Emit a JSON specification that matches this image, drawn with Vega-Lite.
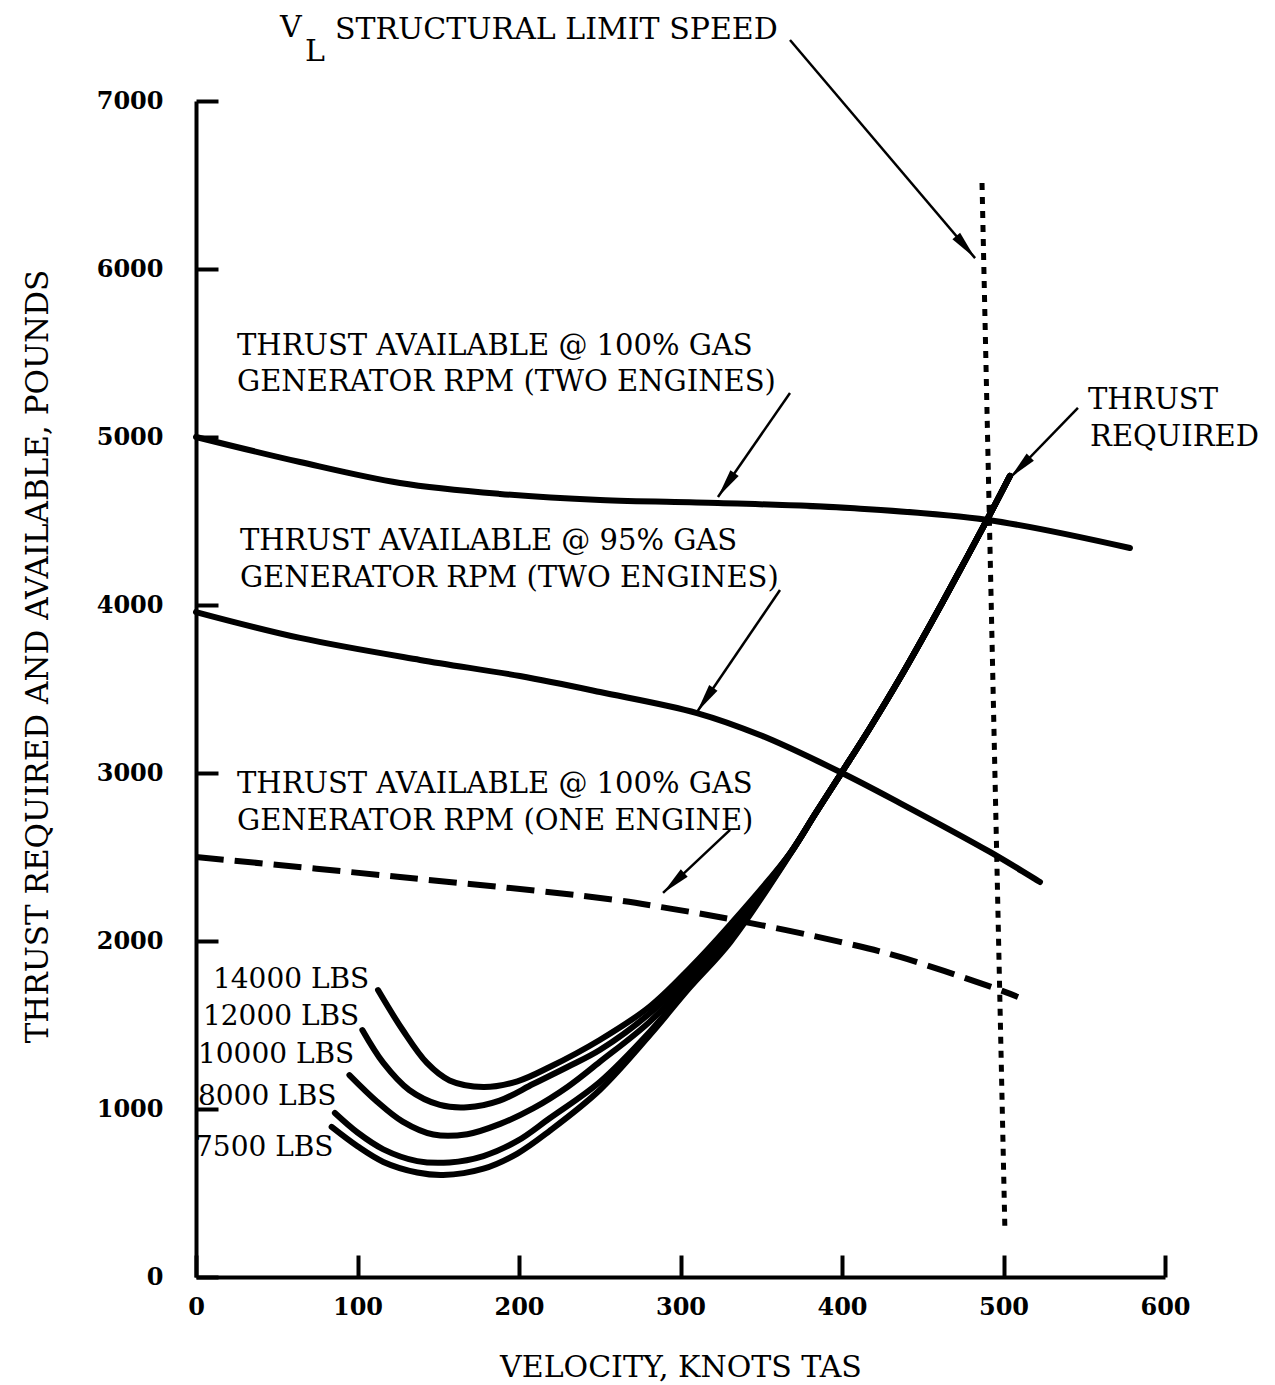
{
  "$schema": "https://vega.github.io/schema/vega-lite/v6.json",
  "width": 969,
  "height": 1176,
  "autosize": {"type": "none"},
  "padding": {"left": 196, "top": 101, "right": 110, "bottom": 108},
  "background": "white",
  "config": {
    "view": {"stroke": null},
    "font": "DejaVu Serif",
    "axis": {
      "domainColor": "black", "domainWidth": 4, "tickColor": "black", "tickWidth": 4,
      "tickSize": -22, "grid": false, "labelFont": "DejaVu Serif", "labelFontWeight": "bold",
      "labelFontSize": 24, "labelColor": "black", "titleFont": "DejaVu Serif",
      "titleFontWeight": "normal", "titleFontSize": 30, "titleColor": "black"
    }
  },
  "datasets": {
    "curves": [
      {"series": "100% two", "v": 0, "t": 5000}, {"series": "100% two", "v": 64.4, "t": 4851},
      {"series": "100% two", "v": 126.3, "t": 4726}, {"series": "100% two", "v": 188.2, "t": 4661},
      {"series": "100% two", "v": 250.2, "t": 4625}, {"series": "100% two", "v": 323.2, "t": 4607},
      {"series": "100% two", "v": 405, "t": 4577}, {"series": "100% two", "v": 490.4, "t": 4506},
      {"series": "100% two", "v": 578.3, "t": 4339},
      {"series": "95% two", "v": 0, "t": 3958}, {"series": "95% two", "v": 64.4, "t": 3804},
      {"series": "95% two", "v": 138.7, "t": 3673}, {"series": "95% two", "v": 200.6, "t": 3577},
      {"series": "95% two", "v": 250.2, "t": 3482}, {"series": "95% two", "v": 310.2, "t": 3357},
      {"series": "95% two", "v": 349.2, "t": 3226}, {"series": "95% two", "v": 398.8, "t": 3006},
      {"series": "95% two", "v": 435.9, "t": 2821}, {"series": "95% two", "v": 491.6, "t": 2530},
      {"series": "95% two", "v": 522.6, "t": 2351},
      {"series": "14000 LBS", "v": 112.7, "t": 1708}, {"series": "14000 LBS", "v": 128, "t": 1470},
      {"series": "14000 LBS", "v": 143, "t": 1274}, {"series": "14000 LBS", "v": 157, "t": 1170},
      {"series": "14000 LBS", "v": 178, "t": 1131}, {"series": "14000 LBS", "v": 199, "t": 1165},
      {"series": "14000 LBS", "v": 219, "t": 1250}, {"series": "14000 LBS", "v": 250, "t": 1411},
      {"series": "14000 LBS", "v": 281, "t": 1610}, {"series": "14000 LBS", "v": 305, "t": 1830},
      {"series": "14000 LBS", "v": 331, "t": 2100}, {"series": "14000 LBS", "v": 368, "t": 2524},
      {"series": "14000 LBS", "v": 383.3, "t": 2755}, {"series": "14000 LBS", "v": 398.8, "t": 2988},
      {"series": "14000 LBS", "v": 417.3, "t": 3268}, {"series": "14000 LBS", "v": 435.9, "t": 3565},
      {"series": "14000 LBS", "v": 454.5, "t": 3881}, {"series": "14000 LBS", "v": 473.1, "t": 4208},
      {"series": "14000 LBS", "v": 490.4, "t": 4518}, {"series": "14000 LBS", "v": 504, "t": 4768},
      {"series": "12000 LBS", "v": 103, "t": 1470}, {"series": "12000 LBS", "v": 116, "t": 1274},
      {"series": "12000 LBS", "v": 132, "t": 1113}, {"series": "12000 LBS", "v": 151, "t": 1024},
      {"series": "12000 LBS", "v": 168, "t": 1010}, {"series": "12000 LBS", "v": 188, "t": 1050},
      {"series": "12000 LBS", "v": 209, "t": 1150}, {"series": "12000 LBS", "v": 230, "t": 1250},
      {"series": "12000 LBS", "v": 250, "t": 1351}, {"series": "12000 LBS", "v": 281, "t": 1570},
      {"series": "12000 LBS", "v": 305, "t": 1800}, {"series": "12000 LBS", "v": 331, "t": 2080},
      {"series": "12000 LBS", "v": 368, "t": 2524}, {"series": "12000 LBS", "v": 383.3, "t": 2755},
      {"series": "12000 LBS", "v": 398.8, "t": 2988}, {"series": "12000 LBS", "v": 417.3, "t": 3268},
      {"series": "12000 LBS", "v": 435.9, "t": 3565}, {"series": "12000 LBS", "v": 454.5, "t": 3881},
      {"series": "12000 LBS", "v": 473.1, "t": 4208}, {"series": "12000 LBS", "v": 490.4, "t": 4518},
      {"series": "12000 LBS", "v": 504, "t": 4768},
      {"series": "10000 LBS", "v": 95, "t": 1202}, {"series": "10000 LBS", "v": 112, "t": 1045},
      {"series": "10000 LBS", "v": 128, "t": 925}, {"series": "10000 LBS", "v": 147, "t": 848},
      {"series": "10000 LBS", "v": 168, "t": 850}, {"series": "10000 LBS", "v": 188, "t": 910},
      {"series": "10000 LBS", "v": 209, "t": 1005}, {"series": "10000 LBS", "v": 230, "t": 1131},
      {"series": "10000 LBS", "v": 250, "t": 1280}, {"series": "10000 LBS", "v": 281, "t": 1520},
      {"series": "10000 LBS", "v": 305, "t": 1765}, {"series": "10000 LBS", "v": 331, "t": 2055},
      {"series": "10000 LBS", "v": 368, "t": 2524}, {"series": "10000 LBS", "v": 383.3, "t": 2755},
      {"series": "10000 LBS", "v": 398.8, "t": 2988}, {"series": "10000 LBS", "v": 417.3, "t": 3268},
      {"series": "10000 LBS", "v": 435.9, "t": 3565}, {"series": "10000 LBS", "v": 454.5, "t": 3881},
      {"series": "10000 LBS", "v": 473.1, "t": 4208}, {"series": "10000 LBS", "v": 490.4, "t": 4518},
      {"series": "10000 LBS", "v": 504, "t": 4768},
      {"series": "8000 LBS", "v": 86, "t": 976}, {"series": "8000 LBS", "v": 100, "t": 860},
      {"series": "8000 LBS", "v": 116, "t": 760}, {"series": "8000 LBS", "v": 137, "t": 690},
      {"series": "8000 LBS", "v": 157, "t": 682}, {"series": "8000 LBS", "v": 178, "t": 720},
      {"series": "8000 LBS", "v": 199, "t": 810}, {"series": "8000 LBS", "v": 219, "t": 945},
      {"series": "8000 LBS", "v": 250, "t": 1161}, {"series": "8000 LBS", "v": 281, "t": 1460},
      {"series": "8000 LBS", "v": 305, "t": 1730}, {"series": "8000 LBS", "v": 331, "t": 2010},
      {"series": "8000 LBS", "v": 368, "t": 2520}, {"series": "8000 LBS", "v": 383.3, "t": 2755},
      {"series": "8000 LBS", "v": 398.8, "t": 2988}, {"series": "8000 LBS", "v": 417.3, "t": 3268},
      {"series": "8000 LBS", "v": 435.9, "t": 3565}, {"series": "8000 LBS", "v": 454.5, "t": 3881},
      {"series": "8000 LBS", "v": 473.1, "t": 4208}, {"series": "8000 LBS", "v": 490.4, "t": 4518},
      {"series": "8000 LBS", "v": 504, "t": 4768},
      {"series": "7500 LBS", "v": 84, "t": 893}, {"series": "7500 LBS", "v": 100, "t": 778},
      {"series": "7500 LBS", "v": 116, "t": 685}, {"series": "7500 LBS", "v": 137, "t": 622},
      {"series": "7500 LBS", "v": 153, "t": 607}, {"series": "7500 LBS", "v": 178, "t": 645},
      {"series": "7500 LBS", "v": 199, "t": 735}, {"series": "7500 LBS", "v": 219, "t": 870},
      {"series": "7500 LBS", "v": 250, "t": 1113}, {"series": "7500 LBS", "v": 281, "t": 1440},
      {"series": "7500 LBS", "v": 305, "t": 1715}, {"series": "7500 LBS", "v": 331, "t": 1995},
      {"series": "7500 LBS", "v": 368, "t": 2518}, {"series": "7500 LBS", "v": 383.3, "t": 2755},
      {"series": "7500 LBS", "v": 398.8, "t": 2988}, {"series": "7500 LBS", "v": 417.3, "t": 3268},
      {"series": "7500 LBS", "v": 435.9, "t": 3565}, {"series": "7500 LBS", "v": 454.5, "t": 3881},
      {"series": "7500 LBS", "v": 473.1, "t": 4208}, {"series": "7500 LBS", "v": 490.4, "t": 4518},
      {"series": "7500 LBS", "v": 504, "t": 4768}
    ],
    "oneEngine": [
      {"v": 0, "t": 2500}, {"v": 126.3, "t": 2381}, {"v": 250.2, "t": 2256},
      {"v": 289.2, "t": 2200}, {"v": 333.7, "t": 2125}, {"v": 398.8, "t": 1995},
      {"v": 435.9, "t": 1905}, {"v": 497.8, "t": 1708}, {"v": 509, "t": 1667}
    ],
    "limit": [
      {"v": 486.7, "t": 6512}, {"v": 500.9, "t": 268}
    ],
    "arrows": [
      {"arrow": "a1", "v": 367.8, "t": 5262}, {"arrow": "a1", "v": 323.2, "t": 4643},
      {"arrow": "a2", "v": 361.6, "t": 4089}, {"arrow": "a2", "v": 310.2, "t": 3363},
      {"arrow": "a3", "v": 330.7, "t": 2661}, {"arrow": "a3", "v": 289.2, "t": 2286},
      {"arrow": "a4", "v": 546.1, "t": 5173}, {"arrow": "a4", "v": 504.0, "t": 4756},
      {"arrow": "a5", "v": 367.8, "t": 7363}, {"arrow": "a5", "v": 482.4, "t": 6065}
    ],
    "tips": [
      {"arrow": "a1", "v": 323.2, "t": 4643},
      {"arrow": "a2", "v": 310.2, "t": 3363},
      {"arrow": "a3", "v": 289.2, "t": 2286},
      {"arrow": "a4", "v": 504.0, "t": 4756},
      {"arrow": "a5", "v": 482.4, "t": 6065}
    ],
    "notes": [
      {"label": "THRUST AVAILABLE @ 100% GAS", "v": 25.4, "t": 5542},
      {"label": "GENERATOR RPM (TWO ENGINES)", "v": 25.4, "t": 5327},
      {"label": "THRUST AVAILABLE @ 95% GAS", "v": 27.2, "t": 4381},
      {"label": "GENERATOR RPM (TWO ENGINES)", "v": 27.2, "t": 4161},
      {"label": "THRUST AVAILABLE @ 100% GAS", "v": 25.4, "t": 2935},
      {"label": "GENERATOR RPM (ONE ENGINE)", "v": 25.4, "t": 2714},
      {"label": "THRUST", "v": 552.3, "t": 5220},
      {"label": "REQUIRED", "v": 553.6, "t": 5000}
    ],
    "weights": [
      {"label": "14000 LBS", "v": 10.5, "t": 1768},
      {"label": "12000 LBS", "v": 4.3, "t": 1548},
      {"label": "10000 LBS", "v": 1.2, "t": 1321},
      {"label": "8000 LBS", "v": 1.2, "t": 1071},
      {"label": "7500 LBS", "v": -0.6, "t": 768}
    ],
    "vl": [
      {"label": "V", "v": 52, "t": 7435},
      {"label": "L", "v": 67.5, "t": 7292},
      {"label": "STRUCTURAL LIMIT SPEED", "v": 86, "t": 7423}
    ]
  },
  "encoding": {
    "x": {
      "field": "v", "type": "quantitative",
      "scale": {"domain": [0, 600], "nice": false, "zero": false},
      "axis": {
        "values": [0, 100, 200, 300, 400, 500, 600], "format": "d",
        "title": "VELOCITY, KNOTS TAS", "labelPadding": 40, "labelFlush": false,
        "titleY": 99, "titleBaseline": "alphabetic"
      }
    },
    "y": {
      "field": "t", "type": "quantitative",
      "scale": {"domain": [0, 7000], "nice": false},
      "axis": {
        "values": [0, 1000, 2000, 3000, 4000, 5000, 6000, 7000], "format": "d",
        "title": "THRUST REQUIRED AND AVAILABLE, POUNDS", "labelPadding": 55, "labelFlush": false,
        "titleX": -158, "titleY": 555, "titleAngle": -90, "titleBaseline": "middle", "titleAlign": "center",
        "titleFontSize": 31
      }
    }
  },
  "layer": [
    {
      "data": {"name": "curves"},
      "mark": {"type": "line", "color": "black", "strokeWidth": 6, "interpolate": "catmull-rom", "clip": false, "strokeCap": "round"},
      "encoding": {"detail": {"field": "series", "type": "nominal"}}
    },
    {
      "data": {"name": "oneEngine"},
      "mark": {"type": "line", "color": "black", "strokeWidth": 6, "interpolate": "catmull-rom", "strokeDash": [28, 11], "strokeCap": "butt", "clip": false},
      "encoding": {}
    },
    {
      "data": {"name": "limit"},
      "mark": {"type": "line", "color": "black", "strokeWidth": 5, "strokeDash": [7, 7], "strokeCap": "butt", "clip": false},
      "encoding": {}
    },
    {
      "data": {"name": "arrows"},
      "mark": {"type": "line", "color": "black", "strokeWidth": 2.5, "clip": false},
      "encoding": {"detail": {"field": "arrow", "type": "nominal"}}
    },
    {
      "data": {"name": "tips"},
      "transform": [{"filter": "datum.arrow == 'a1'"}],
      "mark": {"type": "point", "shape": "M0,0L0.38,2.2L-0.38,2.2Z", "size": 700, "filled": true, "color": "black", "opacity": 1, "angle": 214.7, "clip": false}
    },
    {
      "data": {"name": "tips"},
      "transform": [{"filter": "datum.arrow == 'a2'"}],
      "mark": {"type": "point", "shape": "M0,0L0.38,2.2L-0.38,2.2Z", "size": 700, "filled": true, "color": "black", "opacity": 1, "angle": 214.2, "clip": false}
    },
    {
      "data": {"name": "tips"},
      "transform": [{"filter": "datum.arrow == 'a3'"}],
      "mark": {"type": "point", "shape": "M0,0L0.38,2.2L-0.38,2.2Z", "size": 700, "filled": true, "color": "black", "opacity": 1, "angle": 226.7, "clip": false}
    },
    {
      "data": {"name": "tips"},
      "transform": [{"filter": "datum.arrow == 'a4'"}],
      "mark": {"type": "point", "shape": "M0,0L0.38,2.2L-0.38,2.2Z", "size": 700, "filled": true, "color": "black", "opacity": 1, "angle": 224.2, "clip": false}
    },
    {
      "data": {"name": "tips"},
      "transform": [{"filter": "datum.arrow == 'a5'"}],
      "mark": {"type": "point", "shape": "M0,0L0.38,2.2L-0.38,2.2Z", "size": 700, "filled": true, "color": "black", "opacity": 1, "angle": 139.7, "clip": false}
    },
    {
      "data": {"name": "notes"},
      "mark": {"type": "text", "font": "DejaVu Serif", "fontSize": 29, "align": "left", "baseline": "middle", "color": "black", "clip": false},
      "encoding": {"text": {"field": "label", "type": "nominal"}}
    },
    {
      "data": {"name": "weights"},
      "mark": {"type": "text", "font": "DejaVu Serif", "fontSize": 28, "align": "left", "baseline": "middle", "color": "black", "clip": false},
      "encoding": {"text": {"field": "label", "type": "nominal"}}
    },
    {
      "data": {"name": "vl"},
      "mark": {"type": "text", "font": "DejaVu Serif", "fontSize": 30, "align": "left", "baseline": "middle", "color": "black", "clip": false},
      "encoding": {"text": {"field": "label", "type": "nominal"}}
    }
  ]
}
